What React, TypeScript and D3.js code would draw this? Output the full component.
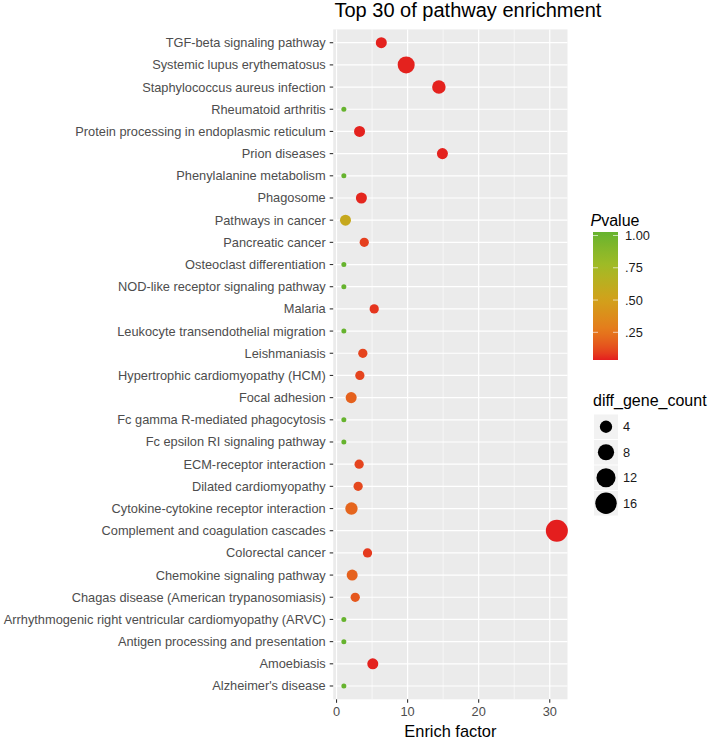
import React from "react";
import * as d3 from "d3";

const categories = [
  "TGF-beta signaling pathway",
  "Systemic lupus erythematosus",
  "Staphylococcus aureus infection",
  "Rheumatoid arthritis",
  "Protein processing in endoplasmic reticulum",
  "Prion diseases",
  "Phenylalanine metabolism",
  "Phagosome",
  "Pathways in cancer",
  "Pancreatic cancer",
  "Osteoclast differentiation",
  "NOD-like receptor signaling pathway",
  "Malaria",
  "Leukocyte transendothelial migration",
  "Leishmaniasis",
  "Hypertrophic cardiomyopathy (HCM)",
  "Focal adhesion",
  "Fc gamma R-mediated phagocytosis",
  "Fc epsilon RI signaling pathway",
  "ECM-receptor interaction",
  "Dilated cardiomyopathy",
  "Cytokine-cytokine receptor interaction",
  "Complement and coagulation cascades",
  "Colorectal cancer",
  "Chemokine signaling pathway",
  "Chagas disease (American trypanosomiasis)",
  "Arrhythmogenic right ventricular cardiomyopathy (ARVC)",
  "Antigen processing and presentation",
  "Amoebiasis",
  "Alzheimer's disease",
];

const enrichFactor = [
  6.3, 9.8, 14.4, 1.03, 3.24, 14.9, 1.03, 3.5, 1.26, 3.9, 1.03, 1.03, 5.3, 1.03,
  3.7, 3.28, 2.06, 1.03, 1.03, 3.18, 3.04, 2.1, 31.0, 4.36, 2.2, 2.63, 1.03, 1.03,
  5.1, 1.03,
];

const geneCount = [
  3, 9, 5, 1, 3, 3, 1, 3, 3, 2, 1, 1, 2, 1, 2, 2, 3, 1, 1, 2, 2, 4, 17, 2, 3, 2,
  1, 1, 3, 1,
];

const pValue = [
  0.03, 0.03, 0.03, 1, 0.03, 0.03, 1, 0.035, 0.55, 0.08, 1, 1, 0.06, 1, 0.09,
  0.09, 0.17, 1, 1, 0.09, 0.1, 0.18, 0.025, 0.07, 0.17, 0.14, 1, 1, 0.03, 1,
];

const xTicks = [0, 10, 20, 30];
const xMinorTicks = [5, 15, 25];
const pTicks = [0.25, 0.5, 0.75, 1.0];
const pTickLabels = [".25", ".50", ".75", "1.00"];
const sizeBreaks = [4, 8, 12, 16];

const colorStopValues = [0.025, 0.25, 0.5, 0.75, 1.0];
const colorStopColors = ["#e41e1e", "#e57a1c", "#cfa31b", "#9fbb26", "#66b32e"];

const FONT = "'Liberation Sans', Arial, Helvetica, sans-serif";

export default function App() {
  const W = 709;
  const H = 739;
  const panel = { left: 333.2, right: 567.5, top: 29.4, bottom: 699.3 };

  const [xmin, xmax] = d3.extent(enrichFactor) as [number, number];
  const pad = (xmax - xmin) * 0.05;
  const x = d3
    .scaleLinear()
    .domain([xmin - pad, xmax + pad])
    .range([panel.left, panel.right]);

  const y = d3
    .scalePoint<string>()
    .domain(categories)
    .range([panel.top, panel.bottom])
    .padding(0.6);

  const pMin = d3.min(pValue) as number;
  const pMax = d3.max(pValue) as number;
  const color = d3
    .scaleLinear<string>()
    .domain(colorStopValues)
    .range(colorStopColors)
    .interpolate(d3.interpolateLab)
    .clamp(true);

  const minN = d3.min(geneCount) as number;
  const maxN = d3.max(geneCount) as number;
  const sizeScale = d3.scaleSqrt().domain([0, maxN - minN]).range([1, 6]);
  const radius = (n: number) => (3.4 * sizeScale(Math.max(0, n - minN)) + 1.6) / 2;

  // colorbar
  const bar = { x: 593, w: 25, top: 232, bottom: 360 };
  const pY = d3.scaleLinear().domain([0.25, 1.0]).range([332.3, 235.5]);
  const gradStops = d3.range(0, 1.0001, 0.05).map((t) => ({
    offset: t,
    color: color(pMax - t * (pMax - pMin)),
  }));

  // size legend
  const keyX = 594;
  const keyW = 24;
  const keyTop = 414;
  const keyStep = 25.5;

  return (
    <svg
      width={W}
      height={H}
      style={{ position: "absolute", left: 0, top: 0, background: "#fff" }}
      fontFamily={FONT}
    >
      {/* title */}
      <text x={334.5} y={16.8} fontSize={20} fill="#000">
        Top 30 of pathway enrichment
      </text>

      {/* panel */}
      <rect
        x={panel.left}
        y={panel.top}
        width={panel.right - panel.left}
        height={panel.bottom - panel.top}
        fill="#ebebeb"
      />
      {xMinorTicks.map((t) => (
        <line
          key={"mn" + t}
          x1={x(t)}
          x2={x(t)}
          y1={panel.top}
          y2={panel.bottom}
          stroke="#fff"
          strokeWidth={0.6}
        />
      ))}
      {xTicks.map((t) => (
        <line
          key={"mj" + t}
          x1={x(t)}
          x2={x(t)}
          y1={panel.top}
          y2={panel.bottom}
          stroke="#fff"
          strokeWidth={1.2}
        />
      ))}
      {categories.map((c) => (
        <line
          key={"h" + c}
          x1={panel.left}
          x2={panel.right}
          y1={y(c)}
          y2={y(c)}
          stroke="#fff"
          strokeWidth={1.2}
        />
      ))}

      {/* points */}
      {categories.map((c, i) => (
        <circle
          key={"pt" + c}
          cx={x(enrichFactor[i])}
          cy={y(c)}
          r={radius(geneCount[i])}
          fill={color(pValue[i])}
        />
      ))}

      {/* y axis */}
      {categories.map((c) => (
        <g key={"yl" + c}>
          <line
            x1={panel.left - 3.5}
            x2={panel.left}
            y1={y(c)}
            y2={y(c)}
            stroke="#333"
            strokeWidth={1.1}
          />
          <text
            x={panel.left - 7.5}
            y={y(c)}
            dy="0.35em"
            textAnchor="end"
            fontSize={12.8}
            fill="#4d4d4d"
          >
            {c}
          </text>
        </g>
      ))}

      {/* x axis */}
      {xTicks.map((t) => (
        <g key={"xt" + t}>
          <line
            x1={x(t)}
            x2={x(t)}
            y1={panel.bottom}
            y2={panel.bottom + 3.5}
            stroke="#333"
            strokeWidth={1.1}
          />
          <text
            x={x(t)}
            y={716}
            textAnchor="middle"
            fontSize={12.8}
            fill="#4d4d4d"
          >
            {t}
          </text>
        </g>
      ))}
      <text
        x={(panel.left + panel.right) / 2}
        y={736.5}
        textAnchor="middle"
        fontSize={16.4}
        fill="#000"
      >
        Enrich factor
      </text>

      {/* P value legend */}
      <text x={590.5} y={226} fontSize={16} fill="#000">
        <tspan fontStyle="italic">P</tspan>
        <tspan>value</tspan>
      </text>
      <defs>
        <linearGradient id="pgrad" x1="0" y1="0" x2="0" y2="1">
          {gradStops.map((s, i) => (
            <stop key={i} offset={s.offset} stopColor={s.color} />
          ))}
        </linearGradient>
      </defs>
      <rect
        x={bar.x}
        y={bar.top}
        width={bar.w}
        height={bar.bottom - bar.top}
        fill="url(#pgrad)"
      />
      {pTicks.map((t, i) => (
        <g key={"pt" + t}>
          <line
            x1={bar.x}
            x2={bar.x + 5}
            y1={pY(t)}
            y2={pY(t)}
            stroke="#fff"
            strokeWidth={0.8}
            opacity={0.8}
          />
          <line
            x1={bar.x + bar.w - 5}
            x2={bar.x + bar.w}
            y1={pY(t)}
            y2={pY(t)}
            stroke="#fff"
            strokeWidth={0.8}
            opacity={0.8}
          />
          <text
            x={bar.x + bar.w + 7}
            y={pY(t)}
            dy="0.35em"
            fontSize={12.8}
            fill="#1a1a1a"
          >
            {pTickLabels[i]}
          </text>
        </g>
      ))}

      {/* size legend */}
      <text x={593} y={406} fontSize={16} fill="#000">
        diff_gene_count
      </text>
      {sizeBreaks.map((b, i) => {
        const cy = keyTop + keyStep * i + keyStep / 2;
        return (
          <g key={"sb" + b}>
            <rect
              x={keyX}
              y={cy - keyStep / 2 + 0.5}
              width={keyW}
              height={keyStep - 1}
              fill="#f2f2f2"
            />
            <circle cx={keyX + keyW / 2} cy={cy} r={radius(b)} fill="#000" />
            <text
              x={keyX + keyW + 5}
              y={cy}
              dy="0.35em"
              fontSize={12.8}
              fill="#1a1a1a"
            >
              {b}
            </text>
          </g>
        );
      })}
    </svg>
  );
}
